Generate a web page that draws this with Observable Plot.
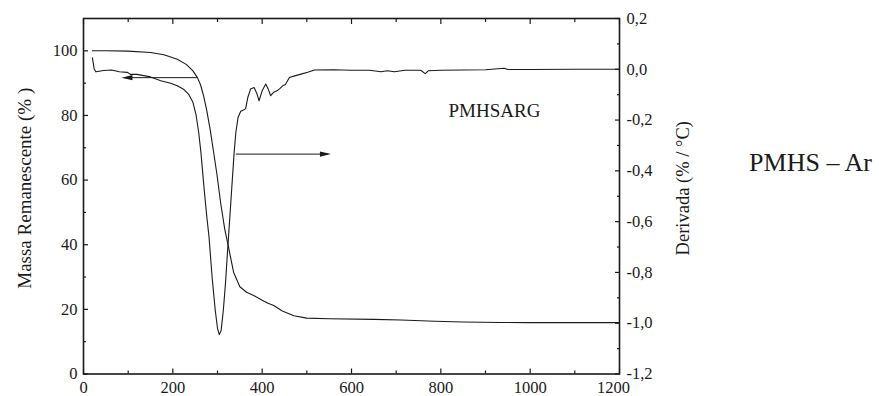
<!DOCTYPE html>
<html><head><meta charset="utf-8">
<script src="https://cdn.jsdelivr.net/npm/d3@7"></script>
<script src="https://cdn.jsdelivr.net/npm/@observablehq/plot@0.6"></script>
<style>
body{margin:0;background:#fff}
svg, svg text{font-family:"Liberation Serif","Times New Roman",serif !important}
</style>
</head><body><div id="chart"></div>
<script>
// TG curve: remaining mass (%) vs temperature (°C)
const tgTemp = [20, 50, 100, 150, 180, 210, 230, 245, 255, 262, 269, 276, 284, 292, 299, 307, 316, 325, 336, 350, 365, 381, 400, 413, 426, 445, 471, 500, 550, 650, 711, 786, 850, 935, 1000, 1100, 1200];
const tgMass = [100, 100, 99.9, 99.5, 98.8, 97.4, 95.8, 93.8, 91.7, 89.5, 86, 81.5, 75.3, 68, 61.5, 53, 45, 39, 31.5, 27, 25.3, 24.3, 22.8, 21.9, 21.2, 19.5, 18, 17.3, 17.1, 16.9, 16.7, 16.3, 16.1, 15.95, 15.9, 15.9, 15.9];
// DTG curve: derivative (% / °C) vs temperature (°C)
const dtgTemp = [20, 24, 28, 45, 63, 80, 98, 105, 120, 150, 173, 195, 210, 225, 236, 245, 252, 258, 263, 270, 276, 281, 288, 295, 300, 304, 308, 313, 318, 322, 330, 337, 341, 346, 352, 358, 363, 368, 374, 382, 388, 393, 400, 408, 414, 419, 426, 434, 440, 446, 452, 461, 475, 487, 502, 517, 560, 600, 640, 666, 680, 696, 720, 755, 765, 772, 800, 900, 942, 950, 1000, 1100, 1200];
const dtgRate = [0.045, 0.0, -0.01, -0.005, -0.003, -0.01, -0.012, -0.02, -0.02, -0.03, -0.045, -0.055, -0.065, -0.08, -0.1, -0.13, -0.18, -0.25, -0.33, -0.47, -0.58, -0.66, -0.82, -0.95, -1.02, -1.045, -1.03, -0.95, -0.84, -0.73, -0.52, -0.334, -0.25, -0.19, -0.165, -0.16, -0.155, -0.11, -0.078, -0.072, -0.095, -0.124, -0.085, -0.058, -0.08, -0.104, -0.09, -0.084, -0.075, -0.065, -0.06, -0.032, -0.025, -0.019, -0.012, -0.003, -0.002, -0.004, -0.004, -0.01, -0.006, -0.01, -0.004, -0.004, -0.017, -0.006, -0.004, -0.002, 0.004, -0.001, -0.001, 0.0, 0.0];

const xTicks = [0, 200, 400, 600, 800, 1000, 1200];
const xMinor = [100, 300, 500, 700, 900, 1100];
const leftTicks = [0, 20, 40, 60, 80, 100];
const leftMinor = [10, 30, 50, 70, 90];
const rightTicks = [0.2, 0.0, -0.2, -0.4, -0.6, -0.8, -1.0, -1.2];
const rightMinor = [0.1, -0.1, -0.3, -0.5, -0.7, -0.9, -1.1];

// annotation arrows: TG arrow points left, DTG arrow points right
const tgArrowFrom = 255, tgArrowTo = 85, tgArrowMass = 91.7;
const dtgArrowFrom = 341, dtgArrowTo = 554, dtgArrowRate = -0.334;

const sampleLabel = "PMHSARG";
const sideLabel = "PMHS – Ar";
const leftTitle = "Massa Remanescente (% )";
const rightTitle = "Derivada (% / °C)";

// map right axis (derivative) onto left axis range
const rMin = -1.2, rMax = 0.2, lMax = 110;
const toLeft = v => (v - rMin) / (rMax - rMin) * lMax;

const tg = tgTemp.map((t, i) => ({t, m: tgMass[i]}));
const dtg = dtgTemp.map((t, i) => ({t, m: toLeft(dtgRate[i])}));

const headRight = {draw(ctx) { ctx.moveTo(0, 0); ctx.lineTo(-11, -2.6); ctx.lineTo(-11, 2.6); ctx.closePath(); }};
const headLeft = {draw(ctx) { ctx.moveTo(0, 0); ctx.lineTo(11, -2.6); ctx.lineTo(11, 2.6); ctx.closePath(); }};

const fmt = v => (v < 0 ? "-" : "") + Math.abs(v).toFixed(1).replace(".", ",");
const blank = () => "";
const ink = "#1a1a1a";
const lastX = xTicks[xTicks.length - 1];

const chart = Plot.plot({
  width: 879, height: 396,
  marginLeft: 83, marginRight: 260, marginTop: 18, marginBottom: 22.5,
  style: {fontFamily: "Liberation Serif", fontSize: "16px", color: ink, background: "#fff"},
  x: {domain: [0, 1200]},
  y: {domain: [0, lMax]},
  marks: [
    // tick labels
    Plot.axisX({anchor: "bottom", ticks: xTicks.slice(0, -1), tickFormat: d => String(d), tickSize: 0, tickPadding: 7, label: null, fontSize: 16.5}),
    Plot.axisX({anchor: "bottom", ticks: [lastX], tickFormat: d => String(d), tickSize: 0, tickPadding: 7, dx: -6, label: null, fontSize: 16.5}),
    Plot.axisY({anchor: "left", ticks: leftTicks, tickFormat: d => String(d), tickSize: 0, tickPadding: 6, label: null, fontSize: 16.5}),
    Plot.axisY({anchor: "right", ticks: rightTicks.map(toLeft), tickFormat: (d, i) => fmt(rightTicks[i]), tickSize: 0, tickPadding: 7, label: null, fontSize: 16.5}),
    // inward tick marks
    Plot.axisX({anchor: "bottom", ticks: xTicks, tickSize: -5, tickFormat: blank, label: null, strokeWidth: 1.2}),
    Plot.axisX({anchor: "bottom", ticks: xMinor, tickSize: -3, tickFormat: blank, label: null, strokeWidth: 1.2}),
    Plot.axisX({anchor: "top", ticks: xTicks, tickSize: -5, tickFormat: blank, label: null, strokeWidth: 1.2}),
    Plot.axisX({anchor: "top", ticks: xMinor, tickSize: -3, tickFormat: blank, label: null, strokeWidth: 1.2}),
    Plot.axisY({anchor: "left", ticks: leftTicks, tickSize: -5, tickFormat: blank, label: null, strokeWidth: 1.2}),
    Plot.axisY({anchor: "left", ticks: leftMinor, tickSize: -3, tickFormat: blank, label: null, strokeWidth: 1.2}),
    Plot.axisY({anchor: "right", ticks: rightTicks.map(toLeft), tickSize: -5, tickFormat: blank, label: null, strokeWidth: 1.2}),
    Plot.axisY({anchor: "right", ticks: rightMinor.map(toLeft), tickSize: -3, tickFormat: blank, label: null, strokeWidth: 1.2}),
    Plot.frame({stroke: ink, strokeWidth: 1.6}),
    // curves
    Plot.line(tg, {x: "t", y: "m", stroke: ink, strokeWidth: 1.1}),
    Plot.line(dtg, {x: "t", y: "m", stroke: ink, strokeWidth: 1.1}),
    // arrows
    Plot.link([0], {x1: () => tgArrowFrom, x2: () => tgArrowTo + 8, y1: () => tgArrowMass, y2: () => tgArrowMass, stroke: ink, strokeWidth: 1}),
    Plot.dot([0], {x: () => tgArrowTo, y: () => tgArrowMass, symbol: headLeft, fill: ink, stroke: "none"}),
    Plot.link([0], {x1: () => dtgArrowFrom, x2: () => dtgArrowTo - 8, y1: () => toLeft(dtgArrowRate), y2: () => toLeft(dtgArrowRate), stroke: ink, strokeWidth: 1}),
    Plot.dot([0], {x: () => dtgArrowTo, y: () => toLeft(dtgArrowRate), symbol: headRight, fill: ink, stroke: "none"}),
    // annotations
    Plot.text([sampleLabel], {x: () => 920, y: () => 81.5, text: d => d, fontSize: 19, fill: ink, lineAnchor: "middle"}),
    Plot.text([sideLabel], {frameAnchor: "right", dx: 191, dy: -34, text: d => d, fontSize: 26, fill: ink, textAnchor: "middle", lineAnchor: "middle"}),
    Plot.text([leftTitle], {frameAnchor: "left", dx: -59, dy: -8, rotate: -90, text: d => d, fontSize: 19, fill: ink, textAnchor: "middle", lineAnchor: "middle"}),
    Plot.text([rightTitle], {frameAnchor: "right", dx: 63.5, dy: -8, rotate: -90, text: d => d, fontSize: 18.5, fill: ink, textAnchor: "middle", lineAnchor: "middle"})
  ]
});
document.getElementById("chart").appendChild(chart);
</script>
</body></html>
